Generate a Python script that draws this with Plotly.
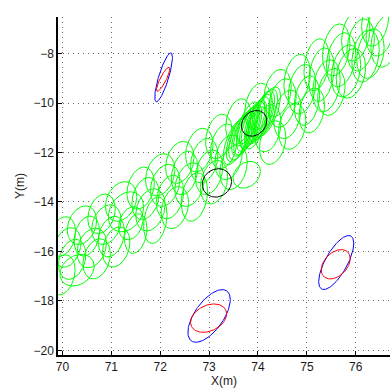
import numpy as np
import plotly.graph_objects as go

# Green ellipses, grouped by their place in the band.
# centre x, centre y, x half-extent, y half-extent, correlation
gA_cx = [70.0, 70.4, 70.8, 71.2, 71.6, 72.0, 72.4, 72.8, 73.2, 73.6, 74.0, 74.4, 74.8, 75.2, 75.6, 76.0, 76.4]
gA_cy = [-15.40, -14.94, -14.48, -13.98, -13.44, -12.90, -12.40, -11.90, -11.35, -10.75, -10.15, -9.59, -9.03,
         -8.45, -7.85, -7.25, -6.65]
gA_rx = [0.27, 0.30, 0.28, 0.32, 0.28, 0.30, 0.29, 0.28, 0.27, 0.26, 0.27, 0.28, 0.27, 0.26, 0.28, 0.29, 0.28]
gA_ry = [0.80, 0.78, 0.80, 0.80, 0.85, 0.85, 0.85, 0.88, 0.90, 0.92, 0.95, 0.95, 1.00, 1.05, 1.05, 1.05, 1.05]

gB_cx = [70.1, 70.5, 70.9, 71.3, 71.7, 72.1, 72.5, 72.9, 73.3, 74.5, 74.9, 75.3, 75.7, 76.1, 76.5]
gB_cy = [-15.84, -15.38, -14.92, -14.40, -13.86, -13.33, -12.83, -12.33, -11.75, -10.00, -9.44, -8.85, -8.25,
         -7.65, -7.05]
gB_rx = [0.28, 0.26, 0.30, 0.36, 0.28, 0.30, 0.27, 0.28, 0.27, 0.28, 0.28, 0.26, 0.30, 0.28, 0.29]
gB_ry = [0.80, 0.81, 0.80, 0.81, 0.85, 0.85, 0.88, 0.90, 0.90, 0.98, 1.00, 1.08, 1.09, 1.05, 1.05]

gC_cx = [70.2, 70.6, 71.0, 71.4, 71.8, 72.2, 72.6, 73.0, 73.4, 74.2, 74.6, 75.0, 75.4, 75.8, 76.2, 76.6]
gC_cy = [-16.32, -15.86, -15.40, -14.86, -14.32, -13.80, -13.30, -12.80, -12.20, -11.02, -10.46, -9.90, -9.30,
         -8.70, -8.10, -7.50]
gC_rx = [0.28, 0.30, 0.27, 0.25, 0.30, 0.28, 0.30, 0.28, 0.28, 0.27, 0.28, 0.26, 0.28, 0.30, 0.28, 0.29]
gC_ry = [0.81, 0.80, 0.82, 0.67, 0.85, 0.88, 0.88, 0.90, 0.90, 0.95, 0.98, 1.00, 1.05, 1.05, 1.05, 1.05]

gD_cx = [70.0, 70.3, 70.7, 71.1, 71.5, 71.9, 72.3, 72.7, 73.1, 73.5, 73.77, 74.3, 74.7, 75.1, 75.5, 75.9, 76.3]
gD_cy = [-16.95, -16.76, -16.30, -15.82, -15.28, -14.74, -14.23, -13.80, -13.20, -12.60, -12.90, -11.60, -10.95,
         -10.30, -9.55, -8.80, -8.00]
gD_rx = [0.26, 0.35, 0.28, 0.28, 0.23, 0.24, 0.28, 0.27, 0.28, 0.28, 0.28, 0.27, 0.28, 0.26, 0.28, 0.30, 0.28]
gD_ry = [0.81, 0.64, 0.81, 0.81, 0.80, 0.94, 0.85, 0.98, 0.88, 0.90, 0.54, 0.88, 0.92, 0.91, 0.95, 1.00, 1.00]

gK_cx = [73.55, 73.60, 73.65, 73.70, 73.75, 73.80, 73.85, 73.90, 73.95, 74.00, 74.05, 74.10, 74.15, 74.20,
         73.80, 73.95]
gK_cy = [-11.55, -11.45, -11.35, -11.25, -11.15, -11.05, -10.95, -10.85, -10.78, -10.70, -10.60, -10.50, -10.42,
         -10.35, -10.80, -11.00]
gK_rx = [0.26, 0.25, 0.25, 0.24, 0.25, 0.24, 0.23, 0.24, 0.23, 0.24, 0.25, 0.24, 0.25, 0.26, 0.22, 0.22]
gK_ry = [0.95, 0.92, 0.95, 0.90, 0.95, 0.90, 0.88, 0.92, 0.88, 0.95, 0.95, 1.00, 0.98, 1.00, 0.85, 0.85]

rho_outer = 0.25
rho_cluster = 0.62

# Black ellipses
k_cx = [73.92, 73.16]
k_cy = [-10.82, -13.23]
k_rx = [0.26, 0.30]
k_ry = [0.52, 0.574]
k_rho = [0.2, 0.1]

# Blue ellipses
b_cx = [72.07, 73.0, 75.6]
b_cy = [-8.96, -18.61, -16.45]
b_rx = [0.181, 0.434, 0.359]
b_ry = [0.99, 1.065, 1.092]
b_rho = [0.81, 0.62, 0.71]

# Red ellipses
r_cx = [72.06, 72.99, 75.59]
r_cy = [-9.04, -18.70, -16.52]
r_rx = [0.136, 0.369, 0.297]
r_ry = [0.485, 0.574, 0.594]
r_rho = [0.86, 0.3, 0.38]

x_ticks = [70, 71, 72, 73, 74, 75, 76]
y_ticks = [-20, -18, -16, -14, -12, -10, -8]

t = np.linspace(0, 2 * np.pi, 121)


def ellipse_path(cx, cy, rx, ry, rho):
    xs, ys = [], []
    for a, b, c, d, r in zip(cx, cy, rx, ry, rho):
        xs += list(a + c * np.cos(t)) + [None]
        ys += list(b + d * (r * np.cos(t) + np.sqrt(1 - r * r) * np.sin(t))) + [None]
    return xs, ys


g_cx = gA_cx + gB_cx + gC_cx + gD_cx + gK_cx
g_cy = gA_cy + gB_cy + gC_cy + gD_cy + gK_cy
g_rx = gA_rx + gB_rx + gC_rx + gD_rx + gK_rx
g_ry = gA_ry + gB_ry + gC_ry + gD_ry + gK_ry
g_rho = [rho_outer] * (len(gA_cx) + len(gB_cx) + len(gC_cx) + len(gD_cx)) + [rho_cluster] * len(gK_cx)

fig = go.Figure()
for cx, cy, rx, ry, rho, col in [
    (g_cx, g_cy, g_rx, g_ry, g_rho, "#00ff00"),
    (k_cx, k_cy, k_rx, k_ry, k_rho, "#000000"),
    (b_cx, b_cy, b_rx, b_ry, b_rho, "#0000ff"),
    (r_cx, r_cy, r_rx, r_ry, r_rho, "#ff0000"),
]:
    xs, ys = ellipse_path(cx, cy, rx, ry, rho)
    fig.add_trace(go.Scatter(x=xs, y=ys, mode="lines", line=dict(color=col, width=1),
                             hoverinfo="skip", showlegend=False))

font = dict(family="Liberation Sans, Arial", size=12, color="#1a1a1a")
axis_common = dict(showgrid=True, gridcolor="#666666", griddash="1px,4px", gridwidth=1,
                   zeroline=False, showline=True, linecolor="black", linewidth=1.5,
                   ticks="inside", ticklen=4, tickcolor="black", tickfont=font)
fig.update_layout(
    width=390, height=390,
    margin=dict(l=58, r=0, t=17, b=35),
    plot_bgcolor="white", paper_bgcolor="white",
    xaxis=dict(range=[69.91, 76.70], tickvals=x_ticks, **axis_common,
               title=dict(text="X(m)", font=font, standoff=2)),
    yaxis=dict(range=[-20.19, -6.52], tickvals=y_ticks, **axis_common,
               title=dict(text="Y(m)", font=font, standoff=6)),
)
fig.write_html("out.html")
